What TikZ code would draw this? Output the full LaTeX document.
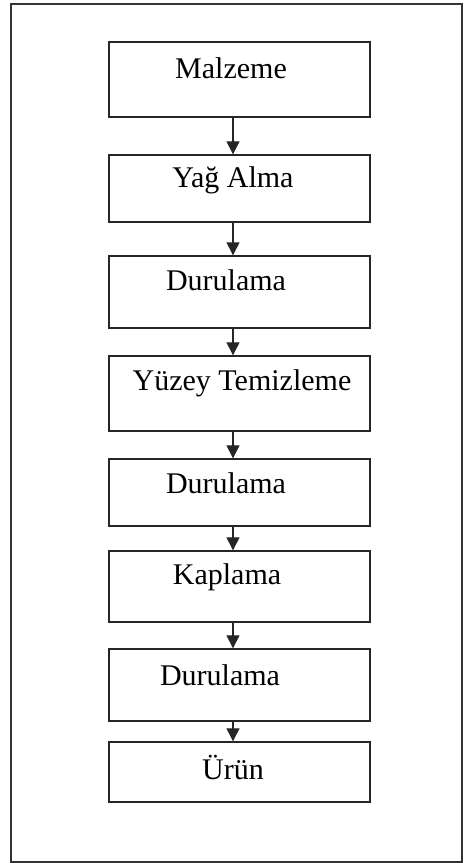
\documentclass[tikz,border=0pt]{standalone}
\usepackage{fontspec}
\setmainfont{Liberation Serif}
\usetikzlibrary{arrows.meta}
\begin{document}
\begin{tikzpicture}[x=1pt,y=-1pt,
  box/.style={draw=black!85, line width=1.4pt, rectangle, minimum width=261pt, inner sep=0pt},
  lbl/.style={font=\fontsize{30}{33}\selectfont, inner sep=0pt, anchor=center},
  arr/.style={draw=black!85, line width=1.3pt, -{Triangle[width=13pt,length=13pt]}}]
\useasboundingbox (0,0) rectangle (464,863);
\draw[black!80, line width=1.4pt] (11,4) rectangle (462,862);
% boxes
\node[box, minimum height=75pt] (b1) at (239.5,79.5) {};
\node[box, minimum height=67pt] (b2) at (239.5,188.5) {};
\node[box, minimum height=72pt] (b3) at (239.5,292) {};
\node[box, minimum height=75pt] (b4) at (239.5,393.5) {};
\node[box, minimum height=67pt] (b5) at (239.5,492.5) {};
\node[box, minimum height=71pt] (b6) at (239.5,586.5) {};
\node[box, minimum height=72pt] (b7) at (239.5,685) {};
\node[box, minimum height=60pt] (b8) at (239.5,772) {};
% labels
\node[lbl] (t1) at (231,68) {Malzeme};
\node[lbl] (t2) at (233,180) {Yağ Alma};
\node[lbl] (t3) at (226,280) {Durulama};
\node[lbl] (t4) at (242,383) {Yüzey Temizleme};
\node[lbl] (t5) at (226,483) {Durulama};
\node[lbl] (t6) at (227,577) {Kaplama};
\node[lbl] (t7) at (220,675) {Durulama};
\node[lbl] (t8) at (233,767) {Ürün};
% arrows
\foreach \a/\b in {b1/b2,b2/b3,b3/b4,b4/b5,b5/b6,b6/b7,b7/b8}
  \draw[arr] ([xshift=-6.5pt]\a.south) -- ([xshift=-6.5pt]\b.north);
\end{tikzpicture}
\end{document}
